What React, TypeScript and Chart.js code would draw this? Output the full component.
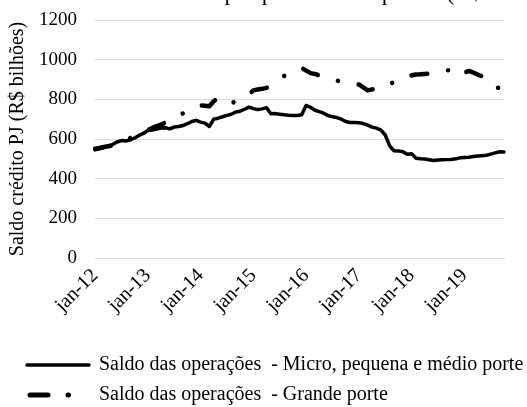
import React, { useEffect, useRef } from "react";
import { Chart, registerables } from "chart.js";

Chart.register(...registerables);

const monthNames = ["jan", "fev", "mar", "abr", "mai", "jun", "jul", "ago", "set", "out", "nov", "dez"];
const yearNames = ["12", "13", "14", "15", "16", "17", "18", "19"];
const monthCount = 94; // jan-12 .. out-19
const categories = yearNames.flatMap((y) => monthNames.map((m) => `${m}-${y}`)).slice(0, monthCount);

const titleText = "Saldo de crédito por porte das empresas (R$ bilhões)";
const yTitle = "Saldo crédito PJ (R$ bilhões)";
const seriesNames = [
  "Saldo das operações  - Micro, pequena e médio porte",
  "Saldo das operações  - Grande porte",
];

const microPequenaMedio = [
  545, 550, 556, 565, 572, 585, 592, 590, 595, 605, 618, 628,
  643, 645, 650, 655, 657, 651, 660, 663, 668, 677, 688, 694,
  685, 680, 663, 700, 705, 712, 719, 725, 736, 740, 750, 761,
  753, 748, 752, 758, 727, 728, 725, 722, 720, 719, 718, 722,
  769, 760, 745, 738, 730, 718, 712, 708, 700, 688, 683, 683,
  682, 678, 670, 660, 655, 645, 620, 565, 541, 540, 536, 523,
  526, 503, 500, 499, 495, 492, 494, 495, 496, 497, 500, 505,
  507, 508, 512, 514, 516, 518, 524, 530, 536, 535,
];

const grandePorte = [
  551, 555, 560, 563, 568, 578, 590, 595, 605, 612, 622, 635,
  645, 655, 665, 672, 683, 695, 705, 718, 729, 735, 745, 760,
  770, 768, 765, 790, 810, 800, 790, 780, 790, 800, 815, 825,
  845, 850, 853, 858, 870, 890, 905, 918, 930, 942, 950, 958,
  945, 932, 928, 920, 912, 905, 901, 895, 888, 882, 879, 877,
  875, 860, 845, 850, 852, 854, 860, 875, 890, 901, 905, 908,
  921, 925, 926, 928, 930, 930, 935, 940, 945, 950, 935, 921,
  935, 943, 935, 925, 916, 900, 880, 860, 857, 879,
];

const yTicks = { min: 0, max: 1200, step: 200 };

const FONT = "'Liberation Serif', 'Times New Roman', serif";
const TOP_CLIP = 30;
const CANVAS_H = 415 + TOP_CLIP;

export default function App() {
  const ref = useRef<HTMLCanvasElement | null>(null);

  useEffect(() => {
    if (!ref.current) return;
    const legendShift = {
      id: "legendShift",
      afterLayout(chart: any) {
        const l = chart.legend;
        if (l) {
          l.left += 14;
          l.right += 14;
        }
      },
    };
    const clippedTitle = {
      id: "clippedTitle",
      afterDraw(chart: any) {
        const ctx = chart.ctx;
        ctx.save();
        ctx.font = `normal 23.5px ${FONT}`;
        ctx.fillStyle = "#000";
        ctx.textAlign = "left";
        ctx.textBaseline = "alphabetic";
        ctx.fillText(titleText, 66, TOP_CLIP - 0.5);
        ctx.restore();
      },
    };
    const chart = new Chart(ref.current, {
      type: "line",
      data: {
        labels: categories,
        datasets: [
          {
            label: seriesNames[0],
            data: microPequenaMedio,
            borderColor: "#000",
            backgroundColor: "#000",
            borderWidth: 3.5,
            pointRadius: 0,
            tension: 0,
            borderCapStyle: "round",
            borderJoinStyle: "round",
          },
          {
            label: seriesNames[1],
            data: grandePorte,
            borderColor: "#000",
            backgroundColor: "#000",
            borderWidth: 4.5,
            pointRadius: 0,
            tension: 0,
            borderDash: [16, 21, 0.1, 21],
            borderCapStyle: "round",
            borderJoinStyle: "round",
          },
        ],
      },
      options: {
        responsive: false,
        animation: false,
        layout: { padding: { left: 3, right: 14, bottom: 0, top: TOP_CLIP + 20 } },
        plugins: {
          title: { display: false },
          legend: {
            position: "bottom",
            align: "start",
            labels: {
              color: "#000",
              font: { family: FONT, size: 20 },
              usePointStyle: true,
              pointStyle: "line",
              pointStyleWidth: 62,
              padding: 10,
              generateLabels(chart: any) {
                const items = Chart.defaults.plugins.legend.labels.generateLabels(chart);
                items.forEach((it: any, i: number) => {
                  it.pointStyle = "line";
                  it.lineCap = "round";
                  if (i === 1) {
                    it.lineWidth = 5;
                    it.lineDash = [18, 20, 0.5, 100];
                    it.lineDashOffset = 135.5;
                  }
                });
                return items;
              },
            },
          },
          tooltip: { enabled: false },
        },
        scales: {
          x: {
            type: "category",
            grid: { display: false, drawTicks: false },
            border: { display: true, color: "#d9d9d9", width: 1 },
            ticks: {
              autoSkip: false,
              maxRotation: 45,
              minRotation: 45,
              padding: 6,
              color: "#000",
              font: { family: FONT, size: 20 },
              callback: (_v: any, i: number) => (categories[i].startsWith("jan") ? categories[i] : ""),
            },
            afterFit(s: any) {
              s.height = 87;
            },
          },
          y: {
            min: yTicks.min,
            max: yTicks.max,
            grid: { color: "#d9d9d9", lineWidth: 1, drawTicks: false },
            border: { display: false },
            ticks: {
              stepSize: yTicks.step,
              padding: 18,
              color: "#000",
              font: { family: FONT, size: 19 },
              callback: (v: any) => String(v),
            },
            title: {
              display: true,
              text: yTitle,
              color: "#000",
              font: { family: FONT, size: 20 },
              padding: { top: 3, bottom: 10 },
            },
            afterFit(s: any) {
              s.width = 92;
            },
          },
        },
      },
      plugins: [legendShift, clippedTitle],
    });
    return () => chart.destroy();
  }, []);

  return (
    <div style={{ position: "fixed", left: 0, top: 0, width: 527, height: 407, overflow: "hidden" }}>
      <canvas
        ref={ref}
        width={527}
        height={CANVAS_H}
        style={{ position: "absolute", left: 0, top: -TOP_CLIP, display: "block", width: 527, height: CANVAS_H }}
      />
    </div>
  );
}
